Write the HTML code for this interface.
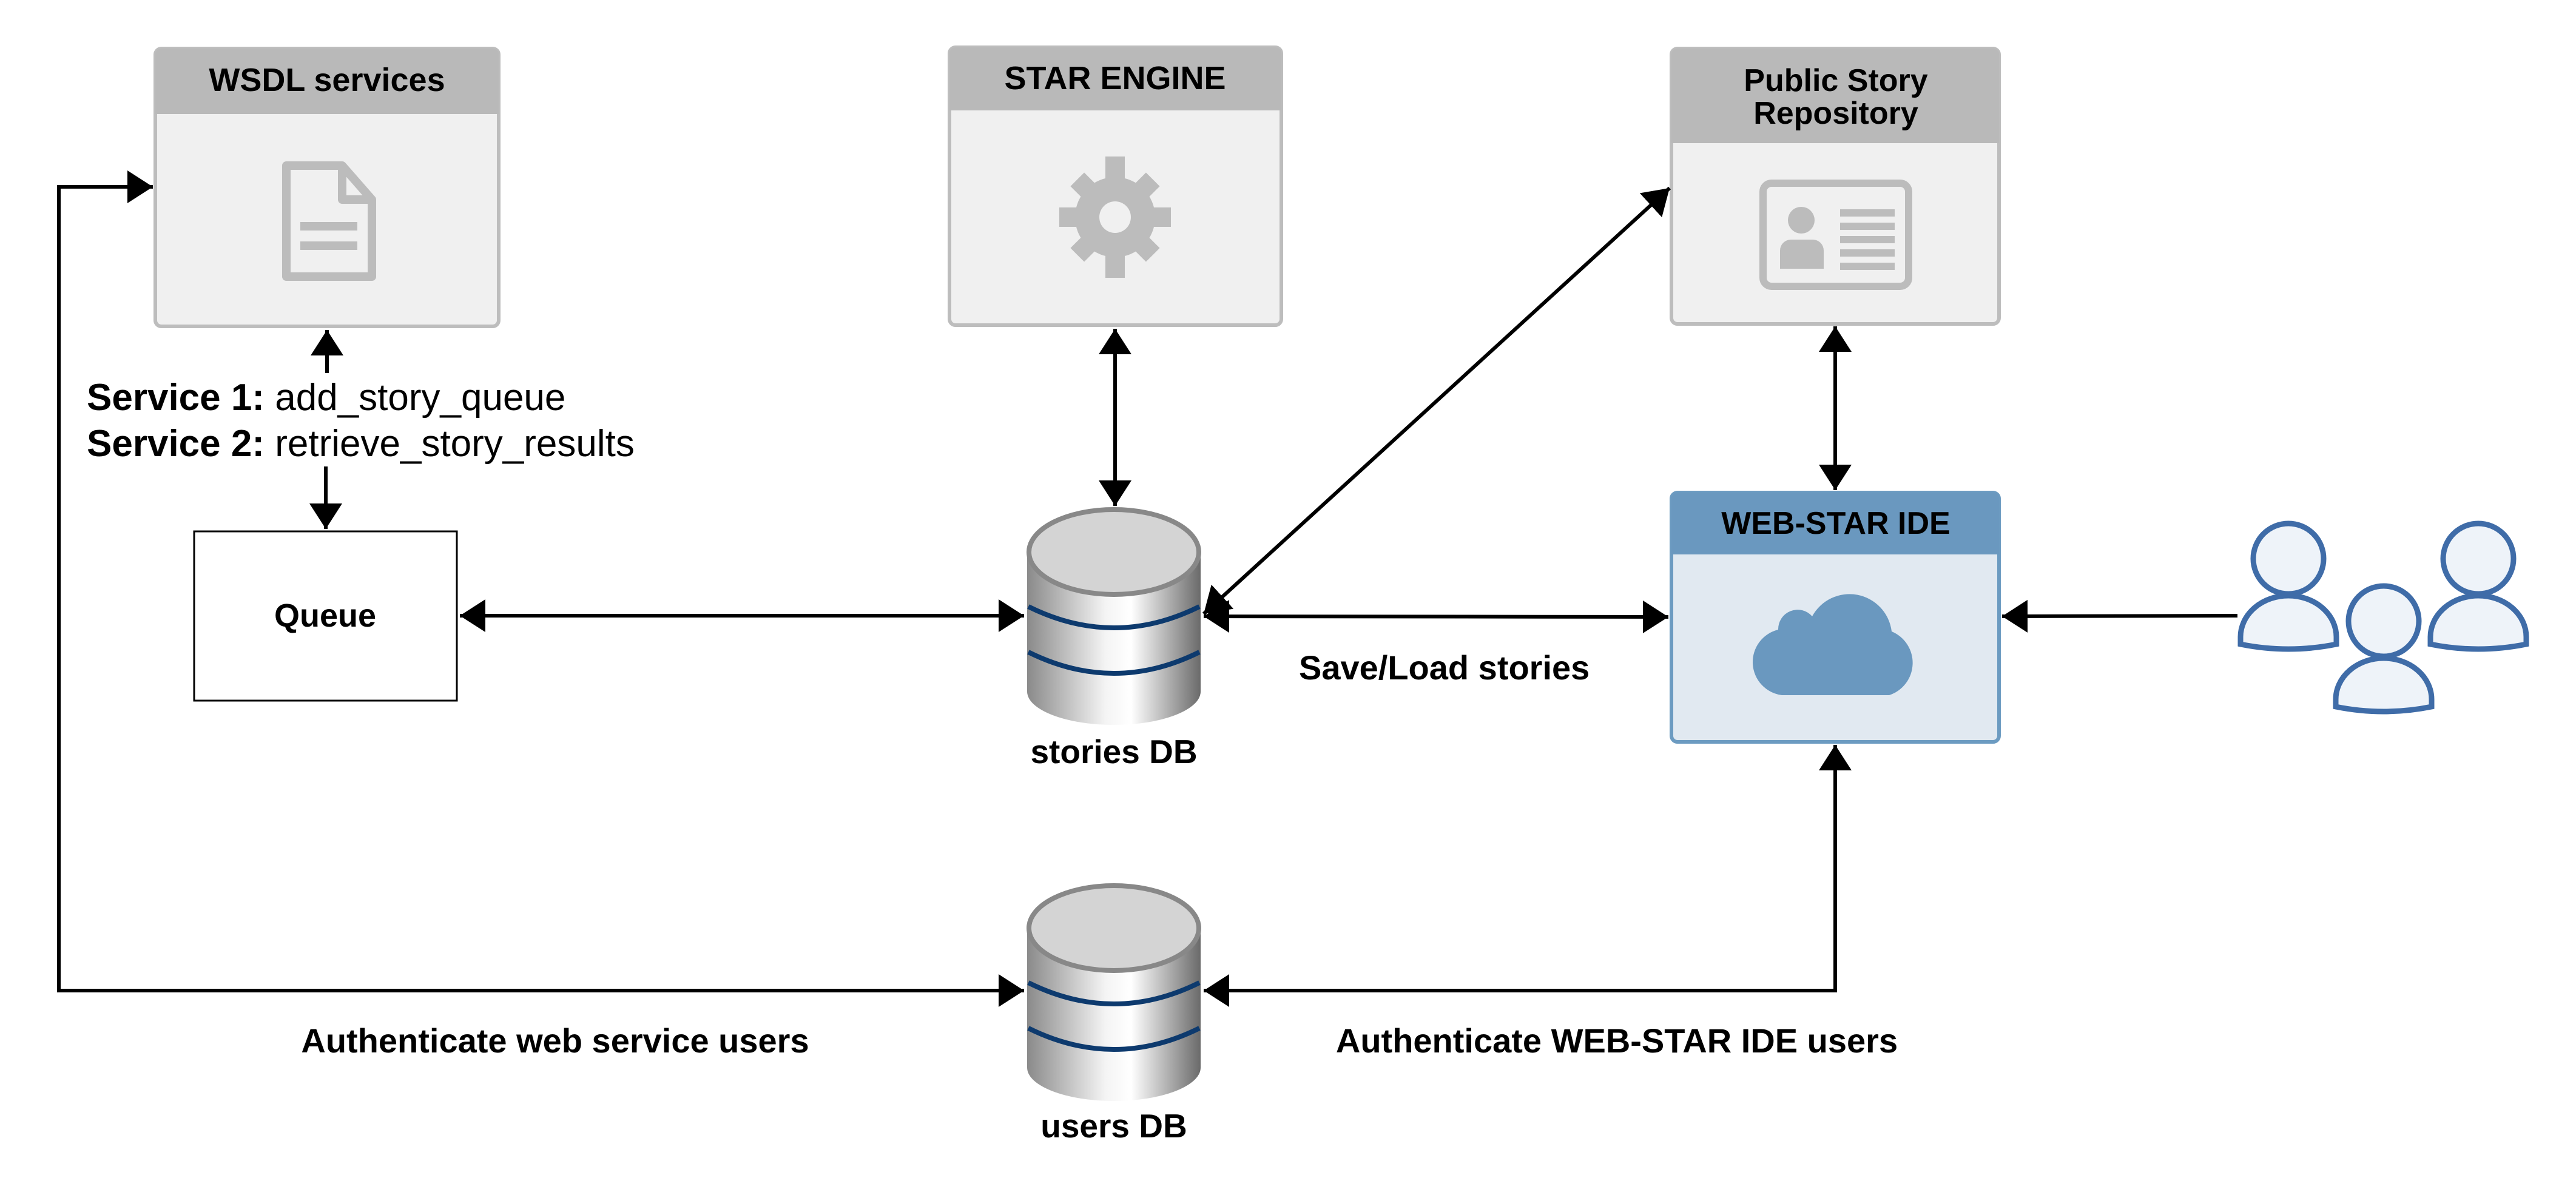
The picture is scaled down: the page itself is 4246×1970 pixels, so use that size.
<!DOCTYPE html>
<html><head><meta charset="utf-8"><style>html,body{margin:0;padding:0;background:#fff}svg{display:block}text{font-family:"Liberation Sans",Arial,sans-serif}</style></head>
<body>
<svg width="4246" height="1970" viewBox="0 0 4246 1970" xmlns="http://www.w3.org/2000/svg">
<defs>
<marker id="ah" viewBox="0 0 10 10" refX="10" refY="5" markerWidth="7" markerHeight="9" markerUnits="strokeWidth" orient="auto-start-reverse" preserveAspectRatio="none"><path d="M0,0L10,5L0,10z" fill="#000"/></marker>
<linearGradient id="cyl" x1="0" x2="1" y1="0" y2="0">
<stop offset="0" stop-color="#8a8a8a"/><stop offset="0.45" stop-color="#f4f4f4"/><stop offset="0.6" stop-color="#ffffff"/><stop offset="1" stop-color="#6a6a6a"/></linearGradient>
</defs>
<!-- WSDL -->
<rect x="256" y="80" width="566" height="458" rx="10" fill="#f0f0f0" stroke="#bdbdbd" stroke-width="6"/>
<path d="M256,90 a10,10 0 0 1 10,-10 h546 a10,10 0 0 1 10,10 v98 h-566z" fill="#b9b9b9"/>
<text x="539" y="150" font-size="54" font-weight="bold" text-anchor="middle">WSDL services</text>
<g fill="none" stroke="#bcbcbc" stroke-width="14" stroke-linejoin="round">
<path d="M472,273 h92 l49,56 v127 h-141z"/><path d="M564,273 v56 h49"/></g>
<rect x="495" y="366" width="94" height="14" fill="#bcbcbc"/><rect x="495" y="398" width="94" height="14" fill="#bcbcbc"/>
<!-- STAR ENGINE -->
<rect x="1565" y="78" width="547" height="458" rx="10" fill="#f0f0f0" stroke="#bdbdbd" stroke-width="6"/>
<path d="M1565,88 a10,10 0 0 1 10,-10 h527 a10,10 0 0 1 10,10 v94 h-547z" fill="#b9b9b9"/>
<text x="1838" y="147" font-size="54" font-weight="bold" text-anchor="middle">STAR ENGINE</text>
<g transform="translate(1838,358)" fill="#bcbcbc">
<circle r="66"/>
<rect x="-16" y="-100" width="32" height="200"/><rect x="-92" y="-16" width="184" height="32"/>
<rect x="-16" y="-88" width="32" height="176" transform="rotate(45)"/><rect x="-16" y="-88" width="32" height="176" transform="rotate(-45)"/>
<circle r="26" fill="#f0f0f0"/></g>
<!-- Public Story Repository -->
<rect x="2755" y="80" width="540" height="454" rx="10" fill="#f0f0f0" stroke="#bdbdbd" stroke-width="6"/>
<path d="M2755,90 a10,10 0 0 1 10,-10 h520 a10,10 0 0 1 10,10 v146 h-540z" fill="#b9b9b9"/>
<text x="3026" y="150" font-size="52" font-weight="bold" text-anchor="middle">Public Story</text>
<text x="3026" y="204" font-size="52" font-weight="bold" text-anchor="middle">Repository</text>
<rect x="2906" y="302" width="240" height="170" rx="14" fill="none" stroke="#bcbcbc" stroke-width="12"/>
<circle cx="2969" cy="363" r="22" fill="#bcbcbc"/><path d="M2934,443 v-30 a18,18 0 0 1 18,-18 h36 a18,18 0 0 1 18,18 v30z" fill="#bcbcbc"/>
<g fill="#bcbcbc"><rect x="3033" y="345" width="90" height="12"/><rect x="3033" y="367" width="90" height="12"/><rect x="3033" y="389" width="90" height="12"/><rect x="3033" y="411" width="90" height="12"/><rect x="3033" y="433" width="90" height="12"/></g>
<!-- WEB-STAR IDE -->
<rect x="2755" y="812" width="540" height="411" rx="10" fill="#e1e9f1" stroke="#6c9bc1" stroke-width="6"/>
<path d="M2755,822 a10,10 0 0 1 10,-10 h520 a10,10 0 0 1 10,10 v92 h-540z" fill="#6a98bf"/>
<text x="3026" y="880" font-size="52" font-weight="bold" text-anchor="middle">WEB-STAR IDE</text>
<path d="M2937,1146 a55,55 0 0 1 -6,-108 a32,32 0 0 1 56,-22 a70,70 0 0 1 131,25 a56,56 0 0 1 -4,105z" fill="#6a98bf"/>
<!-- Users -->
<g fill="#eef3f9" stroke="#3f6ca8" stroke-width="9">
<path d="M3693,1062 v-12 a79,68 0 0 1 158,0 v12 q-79,16 -158,0z"/><circle cx="3772" cy="921" r="58"/>
<path d="M4006,1062 v-12 a79,68 0 0 1 158,0 v12 q-79,16 -158,0z"/><circle cx="4085" cy="921" r="58"/>
<path d="M3850,1165 v-12 a79,68 0 0 1 158,0 v12 q-79,16 -158,0z"/><circle cx="3929" cy="1024" r="58"/>
</g>
<!-- Queue -->
<rect x="320" y="876" width="433" height="279" fill="#fff" stroke="#000" stroke-width="3"/>
<text x="536" y="1033" font-size="54" font-weight="bold" text-anchor="middle">Queue</text>
<!-- Cylinders -->
<g>
<path d="M1693,910 v230 a143,55 0 0 0 286,0 v-230z" fill="url(#cyl)"/>
<ellipse cx="1836" cy="910" rx="140" ry="70" fill="#d4d4d4" stroke="#888" stroke-width="8"/>
<path d="M1695,1000 q141,70 282,0 M1695,1075 q141,70 282,0" fill="none" stroke="#0d3a6e" stroke-width="8"/>
</g>
<g transform="translate(0,620)">
<path d="M1693,910 v230 a143,55 0 0 0 286,0 v-230z" fill="url(#cyl)"/>
<ellipse cx="1836" cy="910" rx="140" ry="70" fill="#d4d4d4" stroke="#888" stroke-width="8"/>
<path d="M1695,1000 q141,70 282,0 M1695,1075 q141,70 282,0" fill="none" stroke="#0d3a6e" stroke-width="8"/>
</g>
<text x="1836" y="1258" font-size="55" font-weight="bold" text-anchor="middle">stories DB</text>
<text x="1836" y="1875" font-size="55" font-weight="bold" text-anchor="middle">users DB</text>
<!-- Connectors -->
<g stroke="#000" stroke-width="6" fill="none">
<line x1="758" y1="1015" x2="1688" y2="1015" marker-start="url(#ah)" marker-end="url(#ah)"/>
<line x1="1984" y1="1016" x2="2750" y2="1017" marker-start="url(#ah)" marker-end="url(#ah)"/>
<line x1="1984" y1="1012" x2="2752" y2="310" marker-start="url(#ah)" marker-end="url(#ah)"/>
<line x1="1838" y1="542" x2="1838" y2="834" marker-start="url(#ah)" marker-end="url(#ah)"/>
<line x1="3025" y1="538" x2="3025" y2="808" marker-start="url(#ah)" marker-end="url(#ah)"/>
<line x1="3688" y1="1015" x2="3300" y2="1016" marker-end="url(#ah)"/>
<line x1="539" y1="615" x2="539" y2="544" marker-end="url(#ah)"/>
<line x1="537" y1="769" x2="537" y2="872" marker-end="url(#ah)"/>
<polyline points="1688,1633 97,1633 97,308 252,308" marker-start="url(#ah)" marker-end="url(#ah)"/>
<polyline points="1984,1633 3025,1633 3025,1228" marker-start="url(#ah)" marker-end="url(#ah)"/>
</g>
<!-- Labels -->
<text x="143" y="676" font-size="62"><tspan font-weight="bold">Service 1:</tspan> add_story_queue</text>
<text x="143" y="752" font-size="62"><tspan font-weight="bold">Service 2:</tspan> retrieve_story_results</text>
<text x="2141" y="1120" font-size="56" font-weight="bold">Save/Load stories</text>
<text x="915" y="1735" font-size="56" font-weight="bold" text-anchor="middle">Authenticate web service users</text>
<text x="2665" y="1735" font-size="56" font-weight="bold" text-anchor="middle">Authenticate WEB-STAR IDE users</text>
</svg>
</body></html>
